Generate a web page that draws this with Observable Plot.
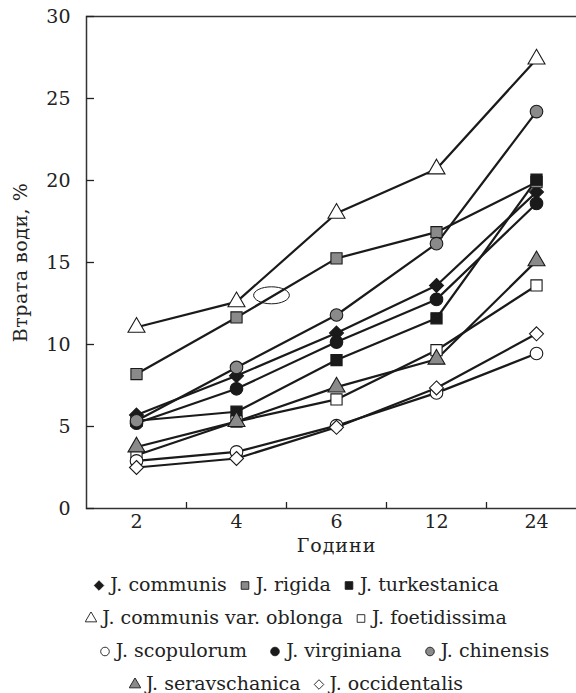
<!DOCTYPE html>
<html><head><meta charset="utf-8">
<script src="https://cdn.jsdelivr.net/npm/d3@7"></script>
<script src="https://cdn.jsdelivr.net/npm/@observablehq/plot@0.6"></script>
<style>
html,body{margin:0;padding:0;background:#fff;overflow:hidden;}
body{font-family:"DejaVu Serif",serif;color:#222;}
#chart svg{display:block;}
#legend{width:592px;margin-top:2px;font-size:19px;line-height:33px;}
.row{text-align:center;white-space:nowrap;}
.row.shift{padding-left:56px;}
.row.shift .item{margin:0 11px;}
.item{margin:0 6px;}
svg.sym{vertical-align:0px;margin-right:5px;}
</style></head><body>
<div id="chart"></div><div id="legend"></div>
<script>
// ---- data ----
const hours = ["2", "4", "6", "12", "24"];
const yTicks = [0, 5, 10, 15, 20, 25, 30];
const seriesNames = ["J. communis", "J. rigida", "J. turkestanica", "J. communis var. oblonga", "J. foetidissima",
  "J. scopulorum", "J. virginiana", "J. chinensis", "J. seravschanica", "J. occidentalis"];
const communis      = [5.7, 8.1, 10.7, 13.6, 19.3];
const rigida        = [8.2, 11.65, 15.25, 16.85, 19.9];
const turkestanica  = [5.35, 5.9, 9.05, 11.6, 20.05];
const oblonga       = [11.05, 12.6, 18.0, 20.7, 27.4];
const foetidissima  = [3.25, 5.3, 6.65, 9.65, 13.6];
const scopulorum    = [2.9, 3.45, 5.05, 7.05, 9.45];
const virginiana    = [5.2, 7.3, 10.15, 12.75, 18.6];
const chinensis     = [5.35, 8.6, 11.8, 16.15, 24.2];
const seravschanica = [3.75, 5.3, 7.4, 9.1, 15.1];
const occidentalis  = [2.5, 3.05, 4.95, 7.35, 10.65];
const legendRows = [[0, 1, 2], [3, 4], [5, 6, 7], [8, 9]];
const ellipseNote = [{x: 1.35, y: 13.0}];

// ---- styles ----
const BLACK = "#1a1a1a", GRAY = "#8a8a8a", WHITE = "#ffffff";
const seriesValues = [communis, rigida, turkestanica, oblonga, foetidissima, scopulorum, virginiana, chinensis, seravschanica, occidentalis];
const seriesStyle = [
  {symbol: "diamond2", fill: BLACK},
  {symbol: "square", fill: GRAY},
  {symbol: "square", fill: BLACK},
  {symbol: "triangle", fill: WHITE},
  {symbol: "square", fill: WHITE},
  {symbol: "circle", fill: WHITE},
  {symbol: "circle", fill: BLACK},
  {symbol: "circle", fill: GRAY},
  {symbol: "triangle", fill: GRAY},
  {symbol: "diamond2", fill: WHITE}
];
const d3Sym = {diamond2: d3.symbolDiamond2, square: d3.symbolSquare, triangle: d3.symbolTriangle, circle: d3.symbolCircle};

const table = seriesNames.flatMap((name, s) => seriesValues[s].map((v, i) => ({series: name, s, i, v})));

const ellipseSymbol = {
  draw(ctx, size) {
    const r = Math.sqrt(size / Math.PI), rx = 2.1 * r, ry = r, k = 0.5523;
    ctx.moveTo(rx, 0);
    ctx.bezierCurveTo(rx, k * ry, k * rx, ry, 0, ry);
    ctx.bezierCurveTo(-k * rx, ry, -rx, k * ry, -rx, 0);
    ctx.bezierCurveTo(-rx, -k * ry, -k * rx, -ry, 0, -ry);
    ctx.bezierCurveTo(k * rx, -ry, rx, -k * ry, rx, 0);
    ctx.closePath();
  }
};

const plot = Plot.plot({
  width: 576,
  height: 566,
  marginLeft: 86,
  marginRight: -10,
  marginTop: 16,
  marginBottom: 58,
  style: {fontFamily: "'DejaVu Serif', serif", fontSize: "19px", color: "#222", background: "#fff"},
  x: {domain: [-0.5, hours.length - 0.5], axis: null},
  y: {domain: [0, 30], axis: null},
  marks: [
    Plot.frame({stroke: "#333", strokeWidth: 1.5}),
    Plot.axisY({ticks: yTicks, tickSize: -8, tickFormat: () => "", label: null, strokeWidth: 1.3}),
    Plot.axisY({ticks: yTicks, tickSize: 0, tickPadding: 16, label: null}),
    Plot.axisX({ticks: d3.range(0.5, hours.length - 1, 1), tickSize: -6, tickFormat: () => "", label: null, strokeWidth: 1.3}),
    Plot.axisX({ticks: d3.range(hours.length), tickSize: 0, tickPadding: 6, tickFormat: i => hours[i], label: null}),
    Plot.text(["Години"], {frameAnchor: "bottom", dy: 43, fontSize: 19}),
    Plot.text(["Втрата води, %"], {frameAnchor: "left", textAnchor: "middle", rotate: -90, dx: -66, fontSize: 19}),
    Plot.line(table, {x: "i", y: "v", z: "series", stroke: BLACK, strokeWidth: 2.2}),
    ...seriesNames.map((name, s) => Plot.dot(table.filter(d => d.s === s), {
      x: "i", y: "v", r: 6.3, symbol: seriesStyle[s].symbol, fill: seriesStyle[s].fill,
      stroke: BLACK, strokeWidth: 1.1
    })),
    Plot.dot(ellipseNote, {x: "x", y: "y", r: 8.5, symbol: ellipseSymbol, fill: "none", stroke: BLACK, strokeWidth: 1})
  ]
});
document.getElementById("chart").appendChild(plot);
d3.select(plot).selectAll("text").filter(function() { return this.textContent === "Години"; }).attr("letter-spacing", "1px");
d3.select(plot).selectAll("text").filter(function() { return this.textContent === "Втрата води, %"; }).attr("letter-spacing", "0.5px");

// ---- legend ----
const legend = d3.select("#legend");
legendRows.forEach((row, r) => {
  const div = legend.append("div").attr("class", r === 2 ? "row shift" : "row");
  for (const s of row) {
    const item = div.append("span").attr("class", "item");
    const svg = item.append("svg").attr("class", "sym").attr("width", 12).attr("height", 12);
    svg.append("path")
      .attr("transform", "translate(6,6.5)")
      .attr("d", d3.symbol(d3Sym[seriesStyle[s].symbol], 58)())
      .attr("fill", seriesStyle[s].fill)
      .attr("stroke", BLACK)
      .attr("stroke-width", 0.9);
    item.append("span").text(seriesNames[s]);
  }
});
</script>
</body></html>
